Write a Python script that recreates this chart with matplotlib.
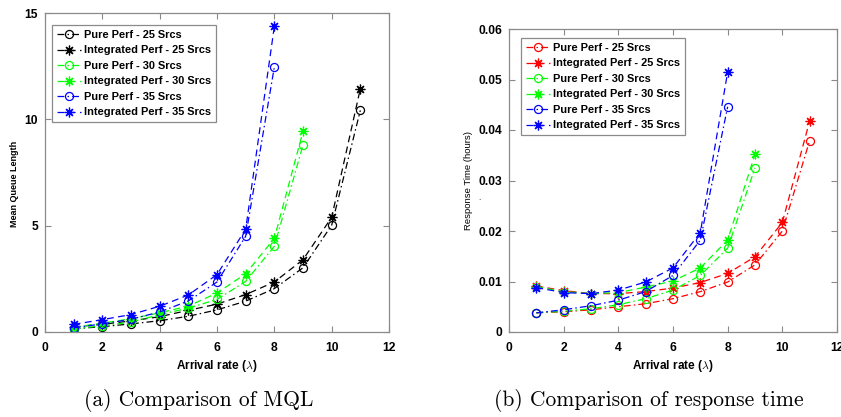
import matplotlib
matplotlib.use("Agg")
import matplotlib.pyplot as plt
from matplotlib.ticker import FixedLocator

plt.rcParams['font.family'] = ['Liberation Sans', 'DejaVu Sans']
plt.rcParams['mathtext.fontset'] = 'cm'

# ---------------- data ----------------
x25 = [1, 2, 3, 4, 5, 6, 7, 8, 9, 10, 11]
x30 = [1, 2, 3, 4, 5, 6, 7, 8, 9]
x35 = [1, 2, 3, 4, 5, 6, 7, 8]

# Mean queue length
mql_pure25 = [0.15, 0.25, 0.38, 0.53, 0.74, 1.04, 1.45, 2.04, 3.02, 5.02, 10.42]
mql_int25 = [0.24, 0.36, 0.52, 0.72, 1.02, 1.31, 1.76, 2.35, 3.40, 5.39, 11.44]
mql_pure30 = [0.14, 0.30, 0.46, 0.82, 1.12, 1.53, 2.38, 4.03, 8.79]
mql_int30 = [0.22, 0.42, 0.62, 0.90, 1.22, 1.83, 2.74, 4.40, 9.43]
mql_pure35 = [0.20, 0.38, 0.60, 0.94, 1.46, 2.35, 4.50, 12.46]
mql_int35 = [0.36, 0.58, 0.82, 1.21, 1.74, 2.70, 4.83, 14.37]

# Response time (hours)
rt_pure25 = [0.0038, 0.0040, 0.0044, 0.0050, 0.0056, 0.0066, 0.0080, 0.0099, 0.0133, 0.0200, 0.0379]
rt_int25 = [0.0091, 0.0082, 0.0076, 0.0076, 0.0080, 0.0087, 0.0098, 0.0116, 0.0149, 0.0217, 0.0418]
rt_pure30 = [0.0038, 0.0041, 0.0046, 0.0054, 0.0066, 0.0083, 0.0112, 0.0166, 0.0325]
rt_int30 = [0.0090, 0.0080, 0.0076, 0.0078, 0.0089, 0.0101, 0.0127, 0.0182, 0.0352]
rt_pure35 = [0.0038, 0.0044, 0.0052, 0.0063, 0.0080, 0.0112, 0.0182, 0.0446]
rt_int35 = [0.0088, 0.0078, 0.0076, 0.0083, 0.0099, 0.0127, 0.0197, 0.0515]

labels = ['Pure Perf - 25 Srcs', 'Integrated Perf - 25 Srcs',
          'Pure Perf - 30 Srcs', 'Integrated Perf - 30 Srcs',
          'Pure Perf - 35 Srcs', 'Integrated Perf - 35 Srcs']

x_ticks = [0, 2, 4, 6, 8, 10, 12]
mql_ticks = [0, 5, 10, 15]
rt_ticks = [0, 0.01, 0.02, 0.03, 0.04, 0.05, 0.06]
rt_tick_labels = ['0', '0.01', '0.02', '0.03', '0.04', '0.05', '0.06']

# ---------------- figure ----------------
W, H = 841, 417
fig = plt.figure(figsize=(W / 100, H / 100), dpi=100)


def px_axes(l, t, r, b):
    return fig.add_axes([l / W, 1 - b / H, (r - l) / W, (b - t) / H])


ax1 = px_axes(45, 13, 389, 332)
ax2 = px_axes(509, 29, 837, 332)

GREEN = '#00ff00'
ASTER = (8, 2, 0)
DASH = (0, (5.5, 3.5))
DASHDOT = (0, (5.5, 2.5, 1.2, 2.5))


def draw(ax, c25, series):
    colors = [c25, c25, GREEN, GREEN, 'blue', 'blue']
    xs = [x25, x25, x30, x30, x35, x35]
    for i, (xv, yv) in enumerate(zip(xs, series)):
        pure = (i % 2 == 0)
        ax.plot(xv, yv, color=colors[i], lw=0.9,
                linestyle=DASHDOT if pure else DASH,
                marker='o' if pure else ASTER,
                markersize=5.8 if pure else 7,
                markerfacecolor='none' if pure else colors[i],
                markeredgewidth=0.9,
                label=labels[i])


draw(ax1, 'black', [mql_pure25, mql_int25, mql_pure30, mql_int30, mql_pure35, mql_int35])
draw(ax2, 'red', [rt_pure25, rt_int25, rt_pure30, rt_int30, rt_pure35, rt_int35])

ax1.set_xlim(0, 12)
ax1.set_ylim(0, 15)
ax2.set_xlim(0, 12)
ax2.set_ylim(0, 0.06)

for ax in (ax1, ax2):
    ax.xaxis.set_major_locator(FixedLocator(x_ticks))
    ax.set_xticklabels([str(t) for t in x_ticks])
    for s in ax.spines.values():
        s.set_color('#8a8a8a')
        s.set_linewidth(0.9)
    ax.tick_params(direction='in', length=4, width=0.8, color='#8a8a8a',
                   top=True, right=True, labelsize=8.7, pad=5)

ax1.yaxis.set_major_locator(FixedLocator(mql_ticks))
ax1.set_yticklabels([str(t) for t in mql_ticks])
ax2.yaxis.set_major_locator(FixedLocator(rt_ticks))
ax2.set_yticklabels(rt_tick_labels)
for ax in (ax1, ax2):
    ax.tick_params(axis='x', pad=7)
    for lab in ax.get_xticklabels() + ax.get_yticklabels():
        lab.set_fontweight('bold')

ax1.set_xlabel('Arrival rate ($\\lambda$)', fontsize=8.5, fontweight='bold')
ax2.set_xlabel('Arrival rate ($\\lambda$)', fontsize=8.5, fontweight='bold')
ax1.xaxis.set_label_coords(0.5, -(358 - 332) / 319)
ax2.xaxis.set_label_coords(0.5, -(358 - 332) / 303)

fig.text(15 / W, 1 - 184 / H, 'Mean Queue Length', rotation=90,
         ha='center', va='center', fontsize=6.5, fontweight='bold')
fig.text(468 / W, 1 - 180 / H, 'Response Time (hours)', rotation=90,
         ha='center', va='center', fontsize=6.8)
fig.text(479 / W, 1 - 199 / H, '.', ha='center', va='center', fontsize=6)

leg_kw = dict(loc='upper left', prop={'weight': 'bold', 'size': 7.9},
              frameon=True, fancybox=False, framealpha=1, edgecolor='#8a8a8a',
              handlelength=2.2, handletextpad=0.3, labelspacing=0.5,
              borderpad=0.45, borderaxespad=0)
l1 = ax1.legend(bbox_to_anchor=((52 - 45) / 344, (332 - 25) / 319), **leg_kw)
l2 = ax2.legend(bbox_to_anchor=((521 - 509) / 328, (332 - 38) / 303), **leg_kw)
for l in (l1, l2):
    l.get_frame().set_linewidth(0.9)

fig.text(199 / W, 1 - 400 / H, '(a) Comparison of MQL', ha='center', va='center',
         fontsize=15.5, family='cmr10')
fig.text(649 / W, 1 - 400 / H, '(b) Comparison of response time', ha='center', va='center',
         fontsize=15.5, family='cmr10')

fig.savefig('out.png', dpi=100)
